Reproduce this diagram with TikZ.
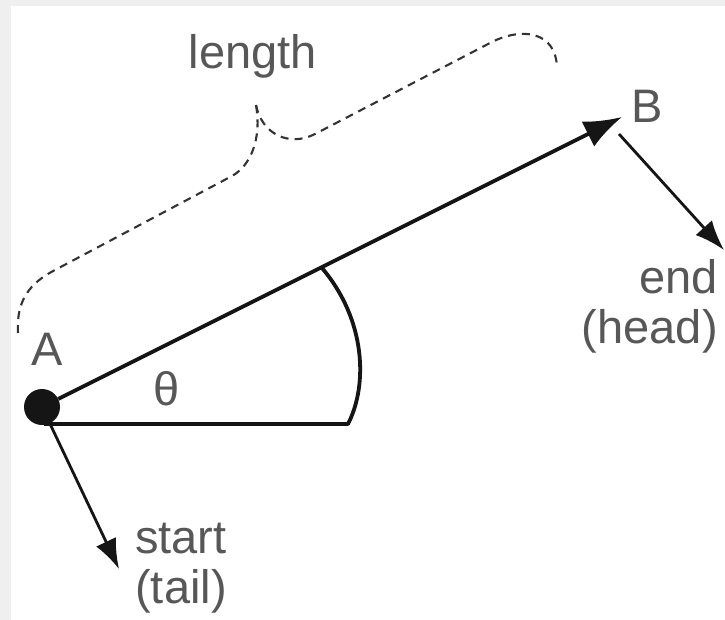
\documentclass[tikz,border=0pt]{standalone}
\usepackage{fontspec}
\setmainfont{Liberation Sans}
\usepackage{tikz}
\usetikzlibrary{arrows.meta,positioning,calc}
\definecolor{labelgray}{HTML}{575757}
\definecolor{inkblack}{HTML}{151515}
\definecolor{framegray}{HTML}{EFEFEF}
\tikzset{
  vec/.style={inkblack,line width=3.8pt,-{Latex[length=38pt,width=28pt]}},
  ptr/.style={inkblack,line width=2.8pt,-{Latex[length=30pt,width=22pt]}},
  lbl/.style={labelgray,inner sep=0pt,font=\fontsize{47}{50}\selectfont},
  span/.style={black!80,line width=2.1pt,dash pattern=on 8pt off 6pt}
}

\begin{document}
\begin{tikzpicture}[x=1pt,y=-1pt,>=Latex]
% frame
\useasboundingbox (0,0) rectangle (725,620);
\fill[framegray] (0,0) rectangle (725,620);
\fill[white] (11,6) rectangle (725,620);
% tail point and head
\node[circle,fill=inkblack,inner sep=0pt,minimum size=36pt] (A) at (42,407) {};
\coordinate (B) at (622,117);
\node[lbl] (Alabel) at (47,349) {A};
\node[lbl] (Blabel) at (647,106) {B};
\draw[vec] (A) -- (B);
% angle
\coordinate (base) at (44,424);
\coordinate (arcend) at (348,424);
\coordinate (arctop) at (322,268);
\draw[inkblack,line width=3.8pt,line join=round] (base) -- (arcend)
  .. controls (368,385) and (366,320) .. (arctop);
\node[lbl] (theta) at (167,389) {θ};
% start / end pointers
\coordinate (tailtip) at (119,569);
\draw[ptr] (A) -- (tailtip);
\node[lbl,align=center] (startlbl) at (181,568) {start\\(tail)};
\coordinate (headfoot) at (619,134);
\coordinate (headtip) at (724,250);
\draw[ptr] (headfoot) -- (headtip);
\node[lbl,align=right,anchor=east] (endlbl) at (718,306) {end\\(head)};
% length brace
\coordinate (bracetip) at (256,105);
\draw[span] (18,333) .. controls (16,300) and (30,283) .. (55,270)
  -- (232,176) .. controls (250,166) and (262,140) .. (bracetip);
\draw[span] (bracetip) .. controls (262,135) and (290,147) .. (315,134)
  -- (490,43) .. controls (520,27) and (556,30) .. (557,68);
\node[lbl] (lengthlbl) at (253,56) {length};
\end{tikzpicture}
\end{document}
